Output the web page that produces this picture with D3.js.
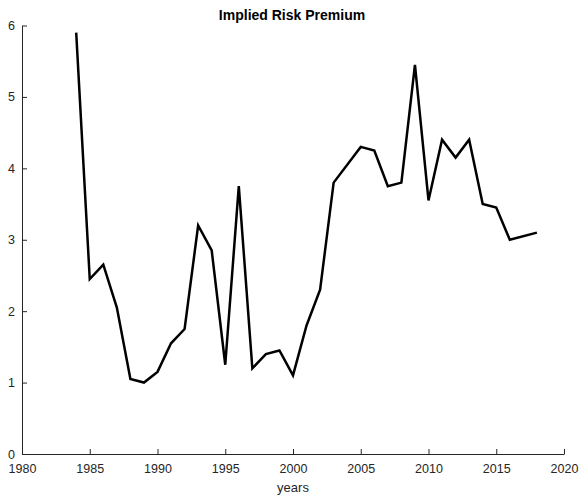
<!DOCTYPE html>
<html>
<head>
<meta charset="utf-8">
<script src="https://cdn.jsdelivr.net/npm/d3@7"></script>
<style>
  body { margin: 0; background: #fff; }
  svg { display: block; }
  text { font-family: "Liberation Sans", Arial, Helvetica, sans-serif; }
</style>
</head>
<body>
<svg id="chart" width="581" height="497"></svg>
<script>
// Implied equity risk premium by year (percent)
const years = [1984, 1985, 1986, 1987, 1988, 1989, 1990, 1991, 1992, 1993, 1994, 1995, 1996, 1997, 1998, 1999,
               2000, 2001, 2002, 2003, 2005, 2006, 2007, 2008, 2009, 2010, 2011, 2012, 2013, 2014, 2015, 2016, 2018];
const premium = [5.90, 2.45, 2.65, 2.05, 1.05, 1.00, 1.15, 1.55, 1.75, 3.20, 2.85, 1.25, 3.75, 1.20, 1.40, 1.45,
                 1.10, 1.80, 2.30, 3.80, 4.30, 4.25, 3.75, 3.80, 5.45, 3.55, 4.40, 4.15, 4.40, 3.50, 3.45, 3.00, 3.10];
const xTicks = [1980, 1985, 1990, 1995, 2000, 2005, 2010, 2015, 2020];
const yTicks = [0, 1, 2, 3, 4, 5, 6];
const titleText = "Implied Risk Premium";
const xLabelText = "years";

(function () {
  const svg = d3.select("#chart");
  const plotLeft = 22, plotRight = 564, plotTop = 25.5, plotBottom = 454;

  const x = d3.scaleLinear().domain([1980, 2020]).range([plotLeft, plotRight]);
  const y = d3.scaleLinear().domain([0, 6]).range([plotBottom, plotTop]);
  const axisColor = "#262626";

  // x axis, ticks pointing into the plot
  const gx = svg.append("g").attr("transform", `translate(0,${plotBottom})`)
    .call(d3.axisBottom(x).tickValues(xTicks).tickFormat(d3.format("d")).tickSizeInner(-5).tickSizeOuter(0).tickPadding(10));
  // y axis, ticks pointing into the plot
  const gy = svg.append("g").attr("transform", `translate(${plotLeft},0)`)
    .call(d3.axisLeft(y).tickValues(yTicks).tickFormat(d3.format("d")).tickSizeInner(-5).tickSizeOuter(0).tickPadding(7));

  [gx, gy].forEach(g => {
    g.select(".domain").attr("stroke", axisColor).attr("stroke-width", 1);
    g.selectAll(".tick line").attr("stroke", axisColor);
    g.selectAll(".tick text").attr("fill", axisColor).attr("font-size", 12.5)
      .attr("font-family", "'Liberation Sans', Arial, sans-serif");
  });

  // data line
  const line = d3.line().x((d, i) => x(years[i])).y(d => y(d));
  svg.append("path").datum(premium)
    .attr("d", line)
    .attr("fill", "none")
    .attr("stroke", "#000")
    .attr("stroke-width", 2.5)
    .attr("stroke-linejoin", "miter");

  // title
  svg.append("text")
    .attr("x", 292).attr("y", 19.5)
    .attr("text-anchor", "middle")
    .attr("font-size", 14).attr("font-weight", "bold").attr("fill", "#000")
    .text(titleText);

  // x axis label
  svg.append("text")
    .attr("x", 293).attr("y", 492)
    .attr("text-anchor", "middle")
    .attr("font-size", 13).attr("fill", axisColor)
    .text(xLabelText);
})();
</script>
</body>
</html>
